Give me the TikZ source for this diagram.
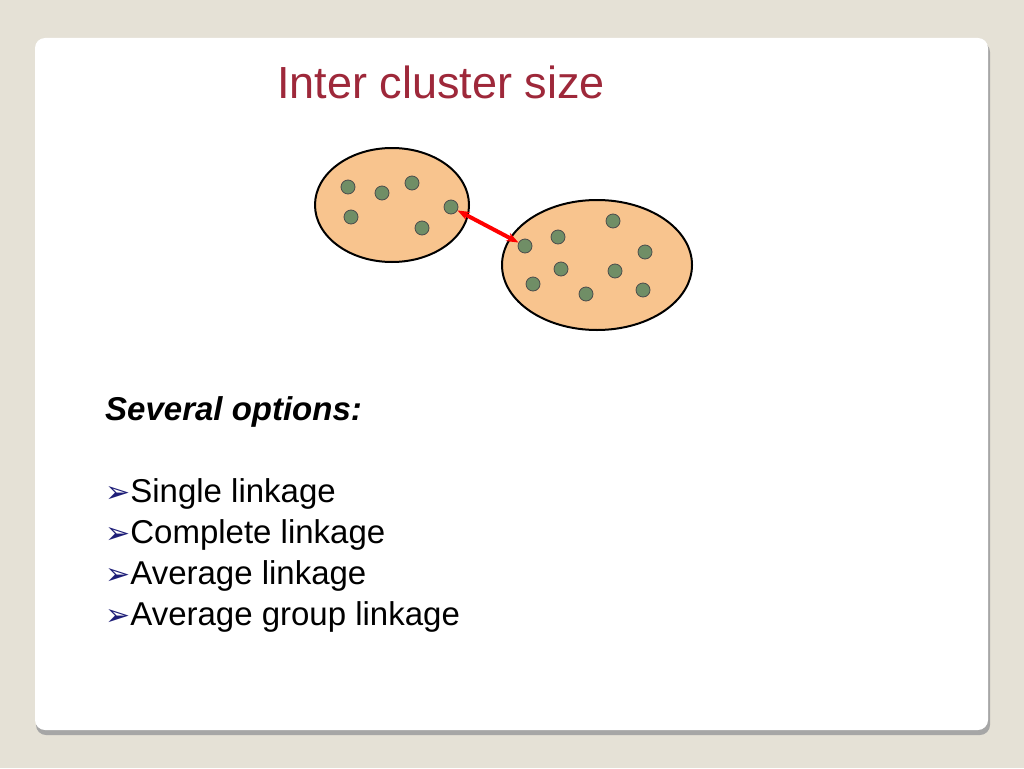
\documentclass[tikz,border=0pt]{standalone}
\usepackage{fontspec}
\setmainfont{Liberation Sans}
\newfontfamily\dejavu{DejaVu Sans}
\usetikzlibrary{arrows.meta}
\definecolor{pagebg}{RGB}{229,225,214}
\definecolor{titlered}{RGB}{158,40,58}
\definecolor{clusterfill}{RGB}{248,196,142}
\definecolor{dotgreen}{RGB}{112,142,102}
\definecolor{bulletblue}{RGB}{30,30,120}
\begin{document}
\begin{tikzpicture}[x=1pt,y=-1pt,
        clusterblob/.style={fill=clusterfill, draw=black, line width=2pt},
        pointdot/.style={circle, fill=dotgreen, draw=black!70, line width=0.8pt, minimum size=14pt, inner sep=0pt},
        optionline/.style={anchor=west, font=\fontsize{33}{40}\selectfont, inner sep=0pt}]
        \useasboundingbox (0,0) rectangle (1024,768);
        \fill[pagebg] (0,0) rectangle (1024,768);
        % Panel
        \fill[black!35, rounded corners=10pt] (36,42) rectangle (990,735);
        \fill[white, rounded corners=10pt] (35,38) rectangle (988,730);
        \node (title) at (441,82) {\color{titlered}\fontsize{45}{54}\selectfont Inter cluster size};
        % Clusters
        \draw[clusterblob] (392,205) ellipse (77 and 57);
        \draw[clusterblob] (597,265) ellipse (95 and 65);
        \foreach \n/\px/\py in {a1/348/187, a2/382/193, a3/412/183, a4/351/217, a5/422/228, a6/451/207} {
          \node[pointdot] (\n) at (\px,\py) {};
        }
        \foreach \n/\px/\py in {b1/525/246, b2/558/237, b3/613/221, b4/645/252, b5/561/269, b6/615/271, b7/533/284, b8/586/294, b9/643/290} {
          \node[pointdot] (\n) at (\px,\py) {};
        }
        \draw[red, line width=4pt, {Stealth[length=12pt]}-{Stealth[length=12pt]}] (a6) -- (b1);
        % Text
        \node[optionline, font=\fontsize{33}{40}\selectfont\bfseries\itshape] (head) at (105,412) {Several options:};
        \foreach \n/\ty/\ttext in {o1/494/Single linkage, o2/535/Complete linkage, o3/576/Average linkage, o4/617/Average group linkage} {
          \node[optionline] (\n) at (105,\ty) {{\dejavu\fontsize{30}{36}\selectfont\color{bulletblue}➢}\ttext};
        }
\end{tikzpicture}
\end{document}
